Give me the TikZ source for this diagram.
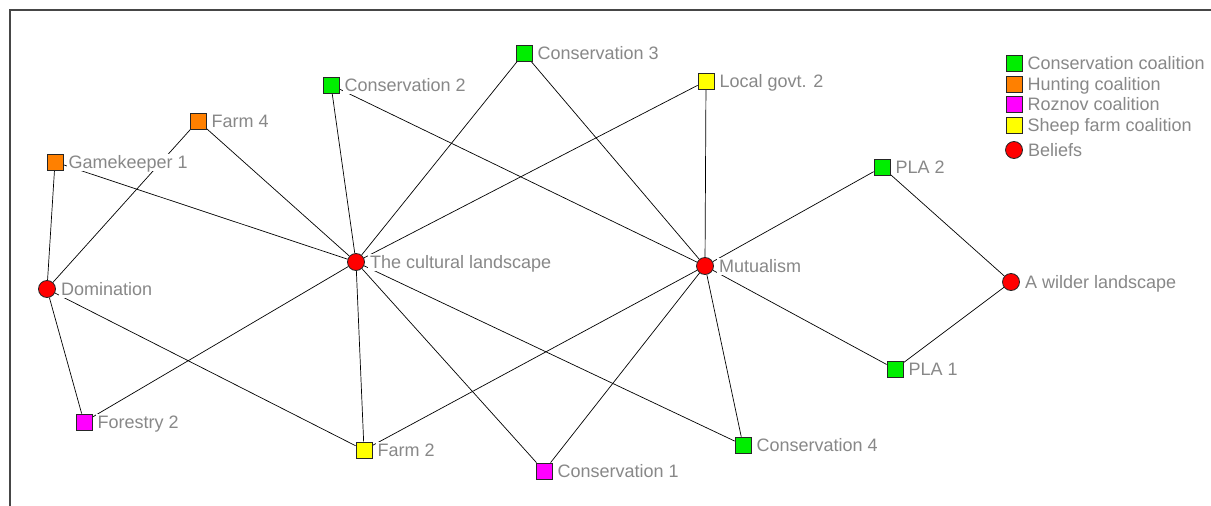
\documentclass[tikz,border=0pt]{standalone}
\usepackage{fontspec}
\setmainfont{Liberation Sans}
\usetikzlibrary{backgrounds}
\definecolor{conscol}{RGB}{0,238,0}
\definecolor{huntcol}{RGB}{255,128,0}
\definecolor{roznovcol}{RGB}{255,0,255}
\definecolor{sheepcol}{RGB}{255,255,0}
\definecolor{beliefcol}{RGB}{255,0,0}
\definecolor{labelgray}{RGB}{136,136,136}
\definecolor{framegray}{RGB}{70,70,70}
\begin{document}
\begin{tikzpicture}[x=1pt,y=-1pt,
  lbl/.style={text=labelgray, font=\fontsize{18}{20}\selectfont, fill=white,
    inner sep=2pt, text height=13pt, text depth=0pt},
  actor/.style={rectangle, draw=black!85, line width=0.8pt, minimum size=16pt,
    inner sep=0pt, label={[lbl, label distance=3pt]right:#1}},
  cons/.style={actor=#1, fill=conscol},
  hunt/.style={actor=#1, fill=huntcol},
  roznov/.style={actor=#1, fill=roznovcol},
  sheep/.style={actor=#1, fill=sheepcol},
  belief/.style={circle, draw=black!85, fill=beliefcol, line width=0.8pt,
    minimum size=17pt, inner sep=0pt, label={[lbl, label distance=3pt]right:#1}},
  tie/.style={draw=black, line width=0.7pt}]
\useasboundingbox (0,0) rectangle (1211,506);
\begin{scope}[on background layer]
  \fill[white] (0,0) rectangle (1211,506);
\end{scope}
\draw[framegray, line width=1.6pt] (10,506) -- (10,10) -- (1211,10);

% beliefs
\node[belief=The cultural landscape] (cult) at (356,262) {};
\node[belief=Mutualism] (mut) at (705,266) {};
\node[belief=Domination] (dom) at (47,289) {};
\node[belief=A wilder landscape] (wild) at (1011,282) {};

% actors
\node[cons=Conservation 3] (c3) at (524,53) {};
\node[sheep=Local govt. 2] (lg2) at (706,81) {};
\node[cons=Conservation 2] (c2) at (331,85) {};
\node[hunt=Farm 4] (f4) at (198,121) {};
\node[hunt=Gamekeeper 1] (gk1) at (55,162) {};
\node[cons=PLA 2] (pla2) at (882,167) {};
\node[cons=PLA 1] (pla1) at (895,369) {};
\node[roznov=Forestry 2] (fo2) at (84,422) {};
\node[sheep=Farm 2] (f2) at (364,450) {};
\node[cons=Conservation 4] (c4) at (743,445) {};
\node[roznov=Conservation 1] (c1) at (544,471) {};

% ties between actors and beliefs
\begin{scope}[on background layer]
  \foreach \a in {gk1,f4,c2,c3,lg2,fo2,f2,c1,c4} \draw[tie] (cult) -- (\a);
  \foreach \a in {c2,c3,lg2,pla2,pla1,c4,c1,f2} \draw[tie] (mut) -- (\a);
  \foreach \a in {gk1,f4,fo2,f2} \draw[tie] (dom) -- (\a);
  \foreach \a in {pla2,pla1} \draw[tie] (wild) -- (\a);
\end{scope}

% legend
\node[cons=Conservation coalition] (lgc) at (1014,63) {};
\node[hunt=Hunting coalition] (lgh) at (1014,84) {};
\node[roznov=Roznov coalition] (lgr) at (1014,104) {};
\node[sheep=Sheep farm coalition] (lgs) at (1014,125) {};
\node[belief=Beliefs] (lgb) at (1014,150) {};
\end{tikzpicture}
\end{document}
